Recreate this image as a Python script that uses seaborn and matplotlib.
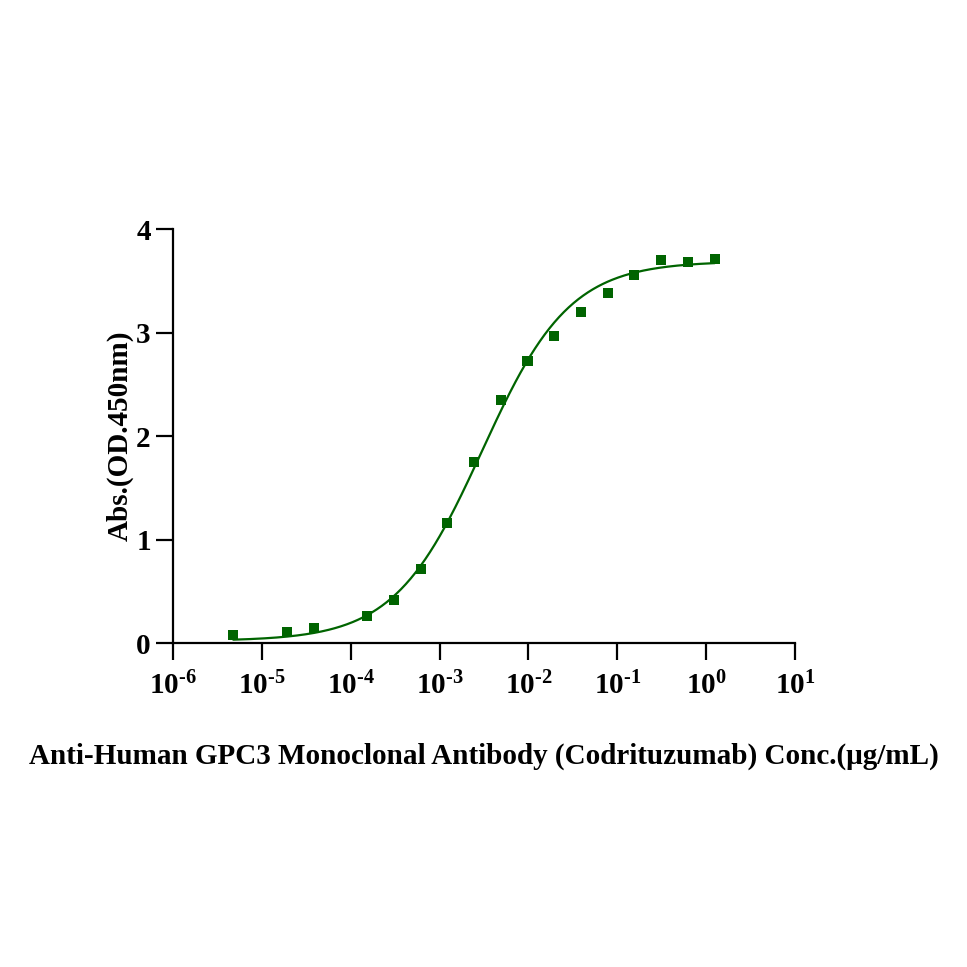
import numpy as np
import pandas as pd
import matplotlib
matplotlib.use("Agg")
import matplotlib.pyplot as plt
import matplotlib.ticker as mticker
import seaborn as sns

# measured points (2-fold serial dilution from 1.25 ug/mL)
conc = [1.25, 0.625, 0.3125, 0.15625, 0.078125, 0.0390625, 0.01953, 0.009766,
        0.004883, 0.002441, 0.001221, 0.0006104, 0.0003052, 0.0001526,
        0.00003815, 0.00001907, 0.000004768]
od450 = [3.71, 3.68, 3.70, 3.56, 3.38, 3.20, 2.97, 2.73,
         2.35, 1.75, 1.16, 0.715, 0.415, 0.26,
         0.145, 0.105, 0.077]

# 4PL fit parameters
fit_bottom = 0.02
fit_top = 3.69
fit_ec50 = 0.0030
fit_hill = 0.88

xtick_pos = [1e-6, 1e-5, 1e-4, 1e-3, 1e-2, 1e-1, 1e0, 1e1]
xtick_exp = ["-6", "-5", "-4", "-3", "-2", "-1", "0", "1"]
ytick_pos = [0, 1, 2, 3, 4]

green = "#006400"

sns.set_style("ticks")
plt.rcParams["font.family"] = ["Liberation Serif", "DejaVu Serif"]
plt.rcParams["font.weight"] = "bold"
plt.rcParams["text.color"] = "black"
plt.rcParams["axes.labelcolor"] = "black"
plt.rcParams["xtick.color"] = "black"
plt.rcParams["ytick.color"] = "black"
plt.rcParams["mathtext.fontset"] = "custom"
plt.rcParams["mathtext.rm"] = "Liberation Serif:bold"
plt.rcParams["mathtext.bf"] = "Liberation Serif:bold"

df = pd.DataFrame({"conc": conc, "od": od450})

xs = np.logspace(np.log10(min(conc)), np.log10(max(conc)), 400)
curve = pd.DataFrame({
    "conc": xs,
    "od": fit_bottom + (fit_top - fit_bottom) / (1 + (fit_ec50 / xs) ** fit_hill),
})

fig = plt.figure(figsize=(9.67, 9.67), dpi=100)
ax = fig.add_axes([0.1789, 0.335, 0.6432, 0.428])

sns.lineplot(data=curve, x="conc", y="od", color=green, lw=1.6, ax=ax)
sns.scatterplot(data=df, x="conc", y="od", color=green, marker="s", s=52,
                edgecolor="none", ax=ax, zorder=3)

ax.set_xscale("log")
ax.set_xlim(1e-6, 1e1)
ax.set_ylim(0, 4)
ax.xaxis.set_minor_locator(mticker.NullLocator())
ax.set_xticks(xtick_pos)
ax.set_xticklabels([r"$\mathbf{10^{\text{%s}}}$" % e for e in xtick_exp])
ax.set_yticks(ytick_pos)
ax.set_yticklabels([str(v) for v in ytick_pos])

for s in ["top", "right"]:
    ax.spines[s].set_visible(False)
for s in ["left", "bottom"]:
    ax.spines[s].set_linewidth(1.6)
    ax.spines[s].set_color("black")

ax.tick_params(axis="both", length=12, width=1.6, color="black",
               labelcolor="black", labelsize=21, direction="out")
ax.tick_params(axis="x", pad=9)
ax.tick_params(axis="y", pad=4)

ax.set_xlabel("Anti-Human GPC3 Monoclonal Antibody (Codrituzumab) Conc.(μg/mL)",
              fontsize=21, fontweight="bold", labelpad=30, color="black")
ax.set_ylabel("Abs.(OD.450nm)", fontsize=21, fontweight="bold", labelpad=2,
              color="black")

fig.savefig("out.png", dpi=100, facecolor="white")
